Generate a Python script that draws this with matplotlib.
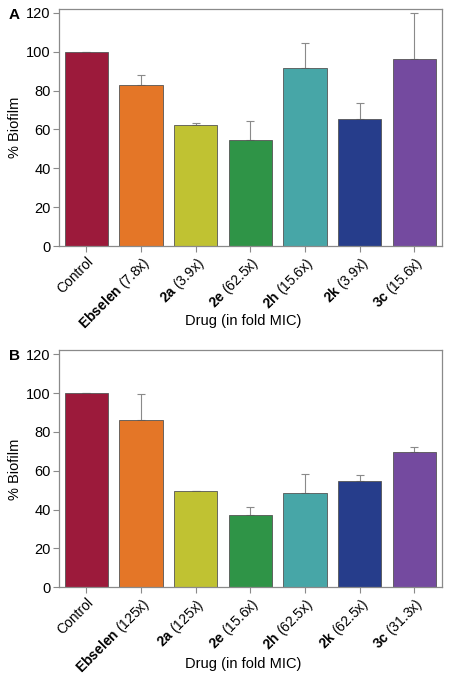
import matplotlib
matplotlib.use("Agg")
import matplotlib.pyplot as plt
import numpy as np

plt.rcParams["font.family"] = ["Liberation Sans", "DejaVu Sans"]
plt.rcParams["mathtext.fontset"] = "custom"
plt.rcParams["mathtext.rm"] = "Liberation Sans"
plt.rcParams["mathtext.bf"] = "Liberation Sans:bold"

drugs = ["Control", "Ebselen", "2a", "2e", "2h", "2k", "3c"]
colors = ["#9c1a3b", "#e47627", "#c0c232", "#2f9447", "#47a6a7", "#263d8b", "#744a9f"]

fold_a = ["", "7.8x", "3.9x", "62.5x", "15.6x", "3.9x", "15.6x"]
biofilm_a = [100, 82.9, 62.2, 54.5, 91.6, 65.2, 96.4]
err_a = [0, 5.1, 1.1, 10.1, 12.7, 8.2, 23.6]

fold_b = ["", "125x", "125x", "15.6x", "62.5x", "62.5x", "31.3x"]
biofilm_b = [100, 86.2, 49.5, 37.4, 48.4, 55.0, 69.7]
err_b = [0, 13.5, 0, 4.0, 10.0, 2.8, 2.7]

GRAY = "#8a8a8a"
FS = 10


def tick_labels(fold):
    out = []
    for d, f in zip(drugs, fold):
        if not f:
            out.append(d)
        else:
            out.append(r"$\bf{%s}$ (%s)" % (d, f))
    return out


def panel(ax, vals, errs, fold, xlab_y):
    x = np.arange(len(drugs))
    ax.bar(x, vals, width=0.79, color=colors, edgecolor="#555555", linewidth=0.6, zorder=2)
    ax.errorbar(x, vals, yerr=[np.zeros(len(errs)), errs], fmt="none",
                ecolor=GRAY, elinewidth=0.8, capsize=3, capthick=0.8, zorder=1)
    ax.set_xlim(-0.5, len(drugs) - 0.5)
    ax.set_ylim(0, 122)
    ax.set_yticks([0, 20, 40, 60, 80, 100, 120])
    ax.set_xticks(x)
    ax.set_xticklabels(tick_labels(fold), rotation=45, ha="right",
                       rotation_mode="anchor", fontsize=FS)
    ax.tick_params(axis="y", labelsize=FS + 0.5)
    ax.tick_params(direction="out", length=4, width=0.8, color=GRAY, pad=2)
    for s in ax.spines.values():
        s.set_color(GRAY)
        s.set_linewidth(0.9)
    ax.set_ylabel("% Biofilm", fontsize=FS + 0.5)
    ax.yaxis.set_label_coords(-0.097, 0.5)
    ax.set_xlabel("Drug (in fold MIC)", fontsize=FS + 0.5)
    ax.xaxis.set_label_coords(0.48, xlab_y)


fig = plt.figure(figsize=(4.52, 6.79), dpi=100)
ax_a = fig.add_axes([0.1305, 0.6377, 0.847, 0.349])
ax_b = fig.add_axes([0.1305, 0.135, 0.847, 0.349])
panel(ax_a, biofilm_a, err_a, fold_a, -0.285)
panel(ax_b, biofilm_b, err_b, fold_b, -0.295)

fig.text(0.02, 0.978, "A", fontsize=11, fontweight="bold", va="center")
fig.text(0.02, 0.476, "B", fontsize=11, fontweight="bold", va="center")

fig.savefig("out.png", dpi=100)
